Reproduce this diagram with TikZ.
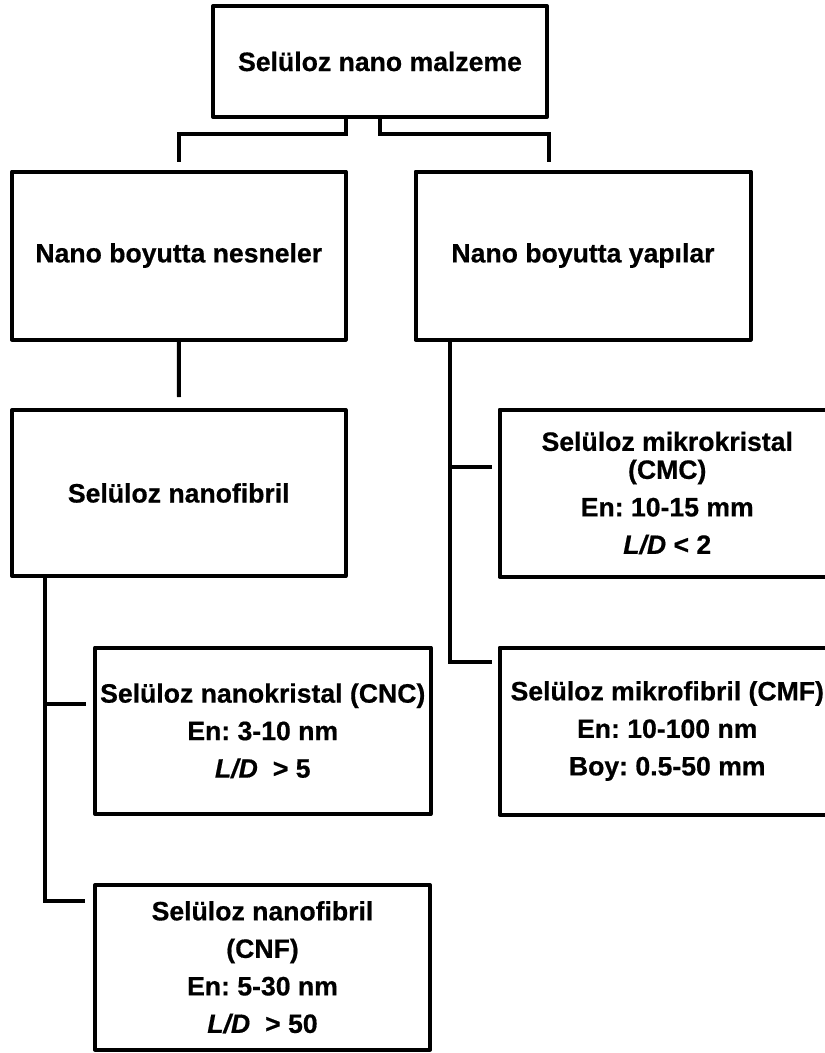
\documentclass[tikz,border=0pt]{standalone}
\usepackage{fontspec}
\setmainfont{Liberation Sans}[BoldFeatures={FakeBold=0.6},BoldItalicFeatures={FakeBold=0.6}]
\frenchspacing
\tikzset{
  box/.style={draw, line width=4pt, line join=round, rectangle, inner sep=0pt, align=center,
    font={\bfseries\fontsize{26.6}{37.5}\selectfont}},
  conn/.style={line width=4pt},
}
\begin{document}
\begin{tikzpicture}[x=1pt,y=-1pt]
\useasboundingbox (0,0) rectangle (825,1053);
\clip (0,0) rectangle (825,1053);

\node[box, minimum width=334pt, minimum height=111pt] (top) at (380,61.5) {Selüloz nano malzeme};
\node[box, minimum width=333.5pt, minimum height=168pt] (nesne) at (178.75,255.5) {Nano boyutta nesneler};
\node[box, minimum width=335pt, minimum height=168pt] (yapi) at (583,255.5) {Nano boyutta yapılar};
\node[box, minimum width=333.5pt, minimum height=166pt] (nf) at (178.75,493) {Selüloz nanofibril};
\node[box, minimum width=335.5pt, minimum height=166.5pt] (cnc) at (262.75,730.75)
  {Selüloz nanokristal (CNC)\\En: 3-10 nm\\\textit{L/D}\hspace{15pt}> 5};
\node[box, minimum width=335pt, minimum height=164.5pt] (cnf) at (262.5,967.25)
  {Selüloz nanofibril\\(CNF)\\En: 5-30 nm\\\textit{L/D}\hspace{15pt}> 50};
\node[box, minimum width=335.5pt, minimum height=167pt] (cmc) at (667.25,493)
  {Selüloz mikrokristal\\[-9.5pt](CMC)\\En: 10-15 mm\\\textit{L/D} < 2};
\node[box, minimum width=335.5pt, minimum height=167pt] (cmf) at (667.25,731)
  {Selüloz mikrofibril (CMF)\\En: 10-100 nm\\Boy: 0.5-50 mm};

% free ends / joints
\coordinate (b1t) at (179,133.5);
\coordinate (b1) at (179,162);
\coordinate (b2t) at (548.5,133.5);
\coordinate (b2) at (548.5,162);
\coordinate (c1) at (179,397);
\coordinate (rj) at (450,467);
\coordinate (r1) at (491.5,467);
\coordinate (r2) at (491.5,662);
\coordinate (lj) at (45,704);
\coordinate (l1) at (86,704);
\coordinate (l2) at (85,900.5);

\draw[conn] ([xshift=-34.5pt]top.south) |- (b1t) -- (b1);
\draw[conn] (top.south) |- (b2t) -- (b2);
\draw[conn] (nesne.south) -- (c1);
\draw[conn] (yapi.south -| rj) |- (r2);
\draw[conn] (rj) -- (r1);
\draw[conn] (nf.south -| lj) |- (l2);
\draw[conn] (lj) -- (l1);
\end{tikzpicture}
\end{document}
